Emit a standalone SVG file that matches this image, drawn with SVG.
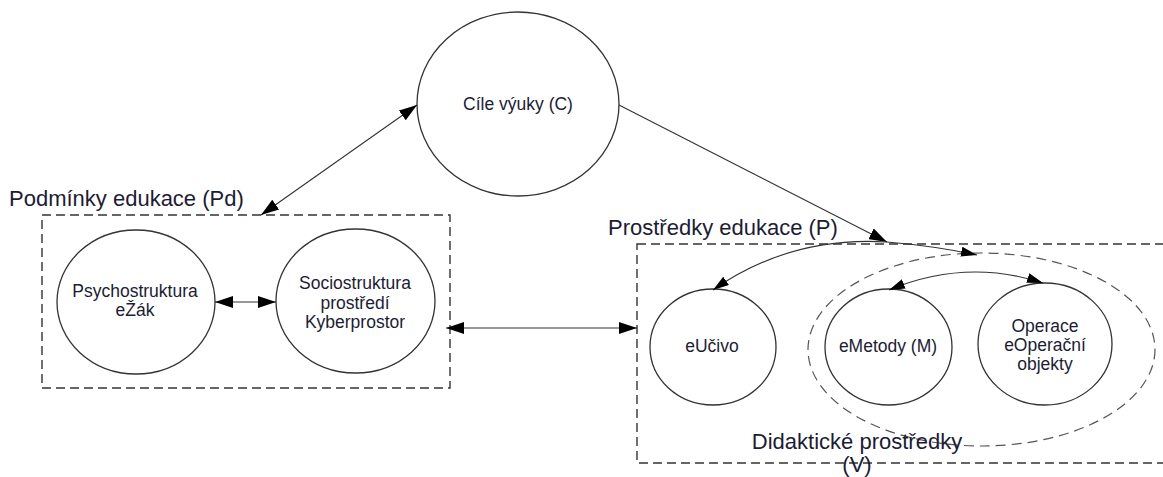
<svg xmlns="http://www.w3.org/2000/svg" width="1163" height="477" viewBox="0 0 1163 477">
  <style>
    .bg { fill: #ffffff; }
    .node { fill: #ffffff; stroke: #333333; stroke-width: 1.3; }
    .frame { fill: none; stroke: #333333; stroke-width: 1.4; stroke-dasharray: 9 5; }
    .group { fill: none; stroke: #555555; stroke-width: 1.2; stroke-dasharray: 10 6; }
    .edge { fill: none; stroke: #333333; stroke-width: 1.1; }
    .t { font-family: "Liberation Sans", Arial, sans-serif; font-size: 17.5px; fill: #1c1c34; text-anchor: middle; }
    .lbl { font-family: "Liberation Sans", Arial, sans-serif; font-size: 22px; fill: #1c1c34; }
  </style>
  <defs>
    <marker id="arrow" viewBox="0 0 18 12" refX="18" refY="6" markerWidth="18" markerHeight="12" markerUnits="userSpaceOnUse" orient="auto-start-reverse">
      <path d="M0,0 L18,6 L0,12 z" fill="#000000"/>
    </marker>
    <marker id="arrow-s" viewBox="0 0 16 10" refX="16" refY="5" markerWidth="16" markerHeight="10" markerUnits="userSpaceOnUse" orient="auto-start-reverse">
      <path d="M0,0 L16,5 L0,10 z" fill="#000000"/>
    </marker>
  </defs>

  <rect class="bg" x="0" y="0" width="1163" height="477"/>

  <!-- Podmínky edukace container -->
  <g id="podminky">
    <rect class="frame" x="42" y="215" width="408" height="173"/>
    <text class="lbl" x="9" y="206">Podmínky edukace (Pd)</text>
  </g>

  <!-- Prostředky edukace container -->
  <g id="prostredky">
    <rect class="frame" x="637" y="244" width="540" height="219"/>
    <text class="lbl" x="608" y="235">Prostředky edukace (P)</text>
  </g>

  <!-- Didaktické prostředky grouping -->
  <g id="didakticke">
    <ellipse class="group" cx="981.5" cy="349.5" rx="173.5" ry="96.5"/>
    <text class="lbl" x="857" y="449" text-anchor="middle">Didaktické prostředky</text>
    <text class="lbl" x="857" y="472" text-anchor="middle">(V)</text>
  </g>

  <g id="cile">
    <ellipse class="node" cx="518" cy="104" rx="101" ry="92"/>
    <text class="t" x="518" y="110">Cíle výuky (C)</text>
  </g>

  <g id="psychostruktura">
    <ellipse class="node" cx="136" cy="302" rx="79" ry="72"/>
    <text class="t" x="135" y="297">Psychostruktura</text>
    <text class="t" x="135" y="316">eŽák</text>
  </g>

  <g id="sociostruktura">
    <ellipse class="node" cx="355.5" cy="301" rx="79.5" ry="72"/>
    <text class="t" x="355" y="289">Sociostruktura</text>
    <text class="t" x="355" y="308.5">prostředí</text>
    <text class="t" x="355" y="328">Kyberprostor</text>
  </g>

  <g id="ucivo">
    <ellipse class="node" cx="713" cy="347" rx="63" ry="58"/>
    <text class="t" x="712" y="352">eUčivo</text>
  </g>

  <g id="metody">
    <ellipse class="node" cx="888.5" cy="347" rx="63.5" ry="58"/>
    <text class="t" x="888" y="352">eMetody (M)</text>
  </g>

  <g id="operace">
    <ellipse class="node" cx="1045" cy="344" rx="67" ry="61"/>
    <text class="t" x="1045" y="332">Operace</text>
    <text class="t" x="1045" y="351">eOperační</text>
    <text class="t" x="1045" y="370">objekty</text>
  </g>

  <!-- connectors -->
  <g id="connectors">
    <line class="edge" x1="261" y1="215" x2="417" y2="105" marker-start="url(#arrow)" marker-end="url(#arrow)"/>
    <line class="edge" x1="619" y1="105" x2="887" y2="242" marker-end="url(#arrow)"/>
    <line class="edge" x1="215" y1="302" x2="276" y2="302" marker-start="url(#arrow)" marker-end="url(#arrow)"/>
    <line class="edge" x1="446" y1="328" x2="637" y2="328" marker-start="url(#arrow)" marker-end="url(#arrow)"/>
    <path class="edge" d="M887,242 Q790,236 713,290" marker-end="url(#arrow-s)"/>
    <path class="edge" d="M887,242 Q935,246 977,255" marker-end="url(#arrow-s)"/>
    <path class="edge" d="M889,290 Q966,258 1043,283" marker-start="url(#arrow-s)" marker-end="url(#arrow-s)"/>
  </g>
</svg>
